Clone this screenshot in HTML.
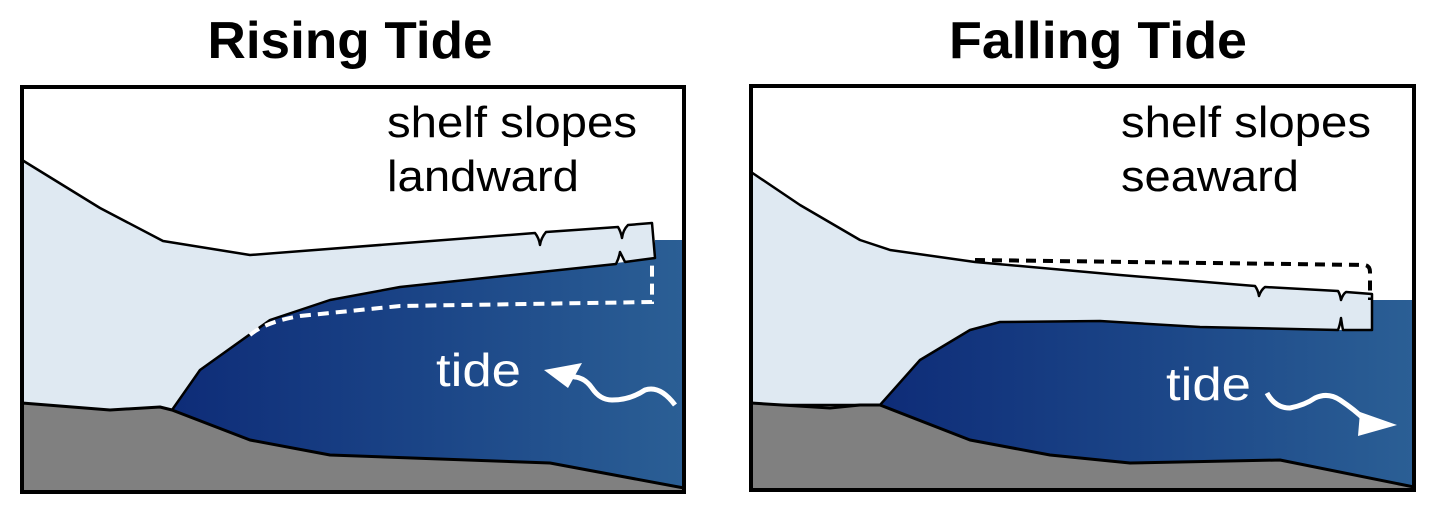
<!DOCTYPE html>
<html><head><meta charset="utf-8"><style>html,body{margin:0;padding:0;background:#fff}svg{display:block}</style></head>
<body>
<svg width="1440" height="511" viewBox="0 0 1440 511" xmlns="http://www.w3.org/2000/svg" font-family="Liberation Sans, Arial, sans-serif">
<defs>
<linearGradient id="w" x1="0" x2="1" y1="0" y2="0">
<stop offset="0" stop-color="#0e2c78"/><stop offset="0.5" stop-color="#1b4587"/><stop offset="1" stop-color="#2b5f95"/>
</linearGradient>
</defs>
<text x="350" y="58" font-size="52" font-weight="bold" text-anchor="middle" textLength="285" lengthAdjust="spacingAndGlyphs">Rising Tide</text>
<text x="1098" y="58" font-size="52" font-weight="bold" text-anchor="middle" textLength="298" lengthAdjust="spacingAndGlyphs">Falling Tide</text>

<!-- LEFT PANEL -->
<g>
<rect x="22" y="87" width="662" height="405" fill="#fff"/>
<polygon points="172,410 200,370 270,320 330,300 400,287 625,262 655,258 655,240 684,240 684,488 550,463 330,455 250,440" fill="url(#w)"/>
<path d="M22,160 L100,208 L163,241 L250,255 L535,233 Q539,238 540,245 Q541,238 546,232 L618,227 Q621,232 622,238 Q623,230 628,225 L652,223 L655,258 L625,262 Q622,256 620,252 Q619,258 616,264 L400,287 L330,300 L270,320 L200,370 L172,410 L22,410 Z" fill="#dfe9f2" stroke="#000" stroke-width="2.5" stroke-linejoin="round"/>
<polygon points="22,403 110,410 160,407 172,410 250,440 330,455 550,463 684,488 684,492 22,492" fill="#808080" stroke="#000" stroke-width="3" stroke-linejoin="round"/>
<path d="M250,335 Q265,322 300,316 L400,306 L652,302 L652,262" fill="none" stroke="#fff" stroke-width="4" stroke-dasharray="11,7"/>
<text x="387" y="137" font-size="44" textLength="250" lengthAdjust="spacingAndGlyphs">shelf slopes</text>
<text x="387" y="191" font-size="44" textLength="192" lengthAdjust="spacingAndGlyphs">landward</text>
<text x="436" y="386" font-size="46" fill="#fff" textLength="85" lengthAdjust="spacingAndGlyphs">tide</text>
<path d="M675,405 Q660,385 645,390 Q630,400 612,400 Q600,400 592,388 Q585,378 575,377 L562,374" fill="none" stroke="#fff" stroke-width="5"/>
<polygon points="544,370 582,363 568,388" fill="#fff"/>
<rect x="22" y="87" width="662" height="405" fill="none" stroke="#000" stroke-width="4"/>
</g>

<!-- RIGHT PANEL -->
<g>
<rect x="751" y="86" width="663" height="404" fill="#fff"/>
<polygon points="880,405 920,360 970,330 1000,322 1100,321 1200,327 1340,330 1372,330 1372,300 1414,300 1414,487 1280,460 1130,463 1050,455 970,440" fill="url(#w)"/>
<path d="M751,172 L800,205 L860,240 L890,250 L975,262 L1120,275 L1255,286 Q1258,290 1259,296 Q1261,290 1265,287 L1338,291 Q1340,294 1341,300 Q1343,294 1346,292 L1372,294 L1372,330 L1343,330 Q1342,325 1341,318 Q1340,325 1338,330 L1200,327 L1100,321 L1000,322 L970,330 L920,360 L880,405 L751,405 Z" fill="#dfe9f2" stroke="#000" stroke-width="2.5" stroke-linejoin="round"/>
<polygon points="751,403 830,408 860,405 880,405 970,440 1050,455 1130,463 1280,460 1414,487 1414,490 751,490" fill="#808080" stroke="#000" stroke-width="3" stroke-linejoin="round"/>
<path d="M975,260 L1365,265 Q1370,266 1370,272 L1370,300" fill="none" stroke="#000" stroke-width="4" stroke-dasharray="10,7"/>
<text x="1121" y="137" font-size="44" textLength="250" lengthAdjust="spacingAndGlyphs">shelf slopes</text>
<text x="1121" y="191" font-size="44" textLength="178" lengthAdjust="spacingAndGlyphs">seaward</text>
<text x="1166" y="400" font-size="46" fill="#fff" textLength="85" lengthAdjust="spacingAndGlyphs">tide</text>
<path d="M1267,393 Q1275,408 1290,408 Q1305,405 1315,398 Q1328,392 1340,400 Q1355,410 1365,420 L1375,424" fill="none" stroke="#fff" stroke-width="5"/>
<polygon points="1397,425 1360,412 1358,436" fill="#fff"/>
<rect x="751" y="86" width="663" height="404" fill="none" stroke="#000" stroke-width="4"/>
</g>
</svg>
</body></html>
